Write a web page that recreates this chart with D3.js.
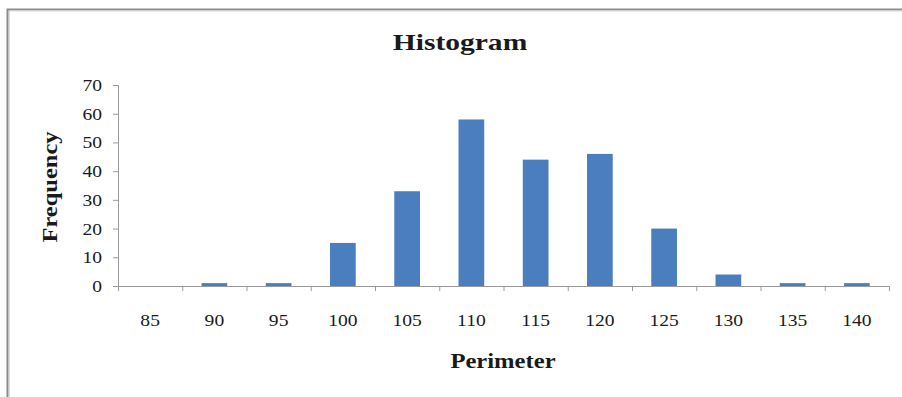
<!DOCTYPE html>
<html>
<head>
<meta charset="utf-8">
<script src="https://cdn.jsdelivr.net/npm/d3@7/dist/d3.min.js"></script>
<style>
  html, body { margin: 0; padding: 0; background: #fff; }
  svg { display: block; }
  text { font-family: "Liberation Serif", "Times New Roman", serif; fill: #1a1a1a; }
</style>
</head>
<body>
<svg id="chart" width="902" height="397"></svg>
<script>
// Perimeter bins and their counts
const categories = ["85", "90", "95", "100", "105", "110", "115", "120", "125", "130", "135", "140"];
const frequency = [0, 1, 1, 15, 33, 58, 44, 46, 20, 4, 1, 1];
const yTicks = [0, 10, 20, 30, 40, 50, 60, 70];

const svg = d3.select("#chart");
const W = 902, H = 397;
const plot = { left: 118, right: 889, top: 85, bottom: 286 };

// outer frame (top and left edges)
svg.append("path")
  .attr("d", `M7.5,${H} L7.5,9.5 L${W},9.5`)
  .attr("fill", "none")
  .attr("stroke", "#8a8a8a")
  .attr("stroke-width", 2);
svg.append("path")
  .attr("d", `M9.5,${H} L9.5,11 L${W},11`)
  .attr("fill", "none")
  .attr("stroke", "#dcdcdc")
  .attr("stroke-width", 1);

const x = d3.scaleBand()
  .domain(categories)
  .range([plot.left, plot.right])
  .paddingInner(0.6)
  .paddingOuter(0.3);

// bin boundaries for the x tick marks
const xEdges = d3.scaleLinear()
  .domain([0, categories.length])
  .range([plot.left, plot.right]);

const y = d3.scaleLinear()
  .domain([0, 70])
  .range([plot.bottom, plot.top]);

// bars
svg.append("g")
  .selectAll("rect")
  .data(frequency)
  .join("rect")
  .attr("x", (d, i) => x(categories[i]))
  .attr("width", x.bandwidth())
  .attr("y", d => y(d))
  .attr("height", d => y(0) - y(d))
  .attr("fill", "#4a7ebf");

// y axis
const yAxis = svg.append("g")
  .attr("transform", `translate(${plot.left},0)`)
  .call(d3.axisLeft(y).tickValues(yTicks).tickSize(5).tickPadding(11));
yAxis.select(".domain").attr("stroke", "#9a9a9a");
yAxis.selectAll(".tick line").attr("stroke", "#9a9a9a");
yAxis.selectAll(".tick text")
  .attr("class", "num")
  .attr("font-size", 17)
  .attr("fill", "#222");

// x axis: line with ticks at bin edges
const xAxisLine = svg.append("g")
  .attr("transform", `translate(0,${plot.bottom})`)
  .call(d3.axisBottom(xEdges).tickValues(d3.range(categories.length + 1)).tickSize(5).tickFormat(""));
xAxisLine.select(".domain").attr("stroke", "#9a9a9a");
xAxisLine.selectAll(".tick line").attr("stroke", "#9a9a9a");

// x axis: category labels centred under bars
const xLabels = svg.append("g")
  .attr("transform", `translate(0,${plot.bottom})`)
  .call(d3.axisBottom(x).tickSize(0).tickPadding(28));
xLabels.select(".domain").remove();
xLabels.selectAll(".tick text")
  .attr("class", "num")
  .attr("font-size", 17)
  .attr("fill", "#222");

// titles
svg.append("text")
  .attr("class", "wide")
  .attr("x", 460).attr("y", 50)
  .attr("text-anchor", "middle")
  .attr("font-size", 24)
  .attr("font-weight", "bold")
  .text("Histogram");

svg.append("text")
  .attr("class", "wide")
  .attr("x", 503).attr("y", 368)
  .attr("text-anchor", "middle")
  .attr("font-size", 20)
  .attr("font-weight", "bold")
  .text("Perimeter");

svg.append("text")
  .attr("transform", "translate(57,187) rotate(-90)")
  .attr("text-anchor", "middle")
  .attr("font-size", 20)
  .attr("font-weight", "bold")
  .attr("textLength", 111)
  .attr("lengthAdjust", "spacingAndGlyphs")
  .text("Frequency");

// widen horizontal text to the chart's letter proportions
function widen(selection, factor) {
  selection.each(function () {
    const len = this.getComputedTextLength();
    if (len > 0) {
      d3.select(this)
        .attr("textLength", len * factor)
        .attr("lengthAdjust", "spacingAndGlyphs");
    }
  });
}
widen(svg.selectAll("text.wide"), 1.23);
widen(svg.selectAll("text.num"), 1.15);
</script>
</body>
</html>
